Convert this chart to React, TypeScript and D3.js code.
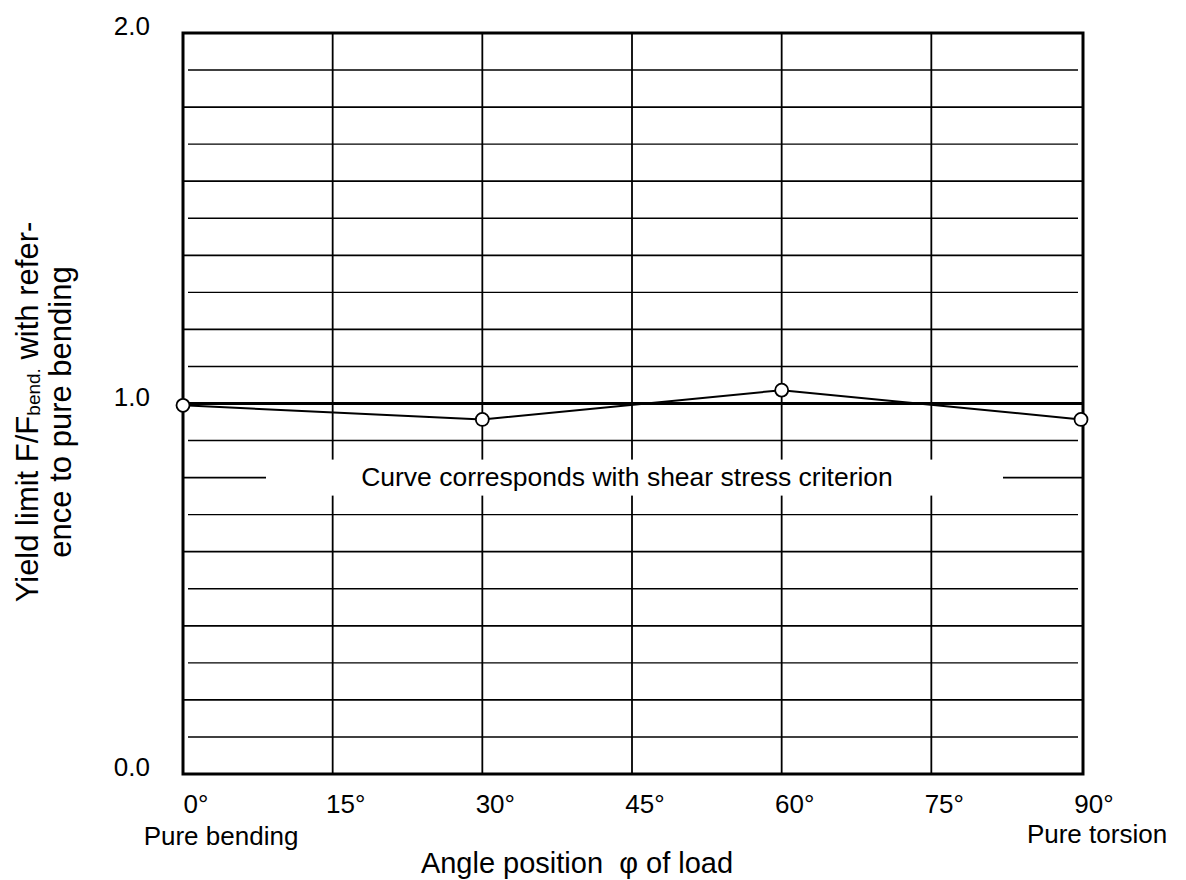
import React from 'react';
import * as d3 from 'd3';

const angles = [0, 30, 60, 90];
const yieldRatio = [0.995, 0.957, 1.036, 0.957];
const xTicks = [0, 15, 30, 45, 60, 75, 90];
const yTickLabels = [0, 1, 2];
const noteText = 'Curve corresponds with shear stress criterion';

const font = '"Liberation Sans", Arial, sans-serif';

export default function App() {
  const width = 1186;
  const height = 880;

  const x = d3.scaleLinear().domain([0, 90]).range([183, 1081]);
  const y = d3.scaleLinear().domain([0, 2]).range([774, 33]);

  const left = 183;
  const right = 1083;
  const gridTicks = y.ticks(20).filter(v => v > 0.01 && v < 1.99 && Math.abs(v - 1) > 0.01);

  const line = d3.line<number>()
    .x((d, i) => x(angles[i]))
    .y(d => y(d));

  return (
    <svg width={width} height={height}
      style={{ position: 'absolute', left: 0, top: 0, background: '#fff' }}
      fontFamily={font}>
      {/* horizontal grid */}
      {gridTicks.map(v => {
        const even = Math.round(v * 10) % 2 === 0;
        return (
          <line key={'h' + v}
            x1={even ? left : 188} x2={even ? right : 1078}
            y1={y(v)} y2={y(v)}
            stroke="#000" strokeWidth={even ? 1.8 : 1.4} />
        );
      })}
      {/* vertical grid */}
      {xTicks.slice(1, -1).map(t => (
        <line key={'v' + t} x1={x(t)} x2={x(t)} y1={y(2)} y2={y(0)}
          stroke="#000" strokeWidth={1.8} />
      ))}
      {/* reference line at 1.0 */}
      <line x1={left} x2={right} y1={y(1)} y2={y(1)} stroke="#000" strokeWidth={3} />

      {/* note box */}
      <rect x={266} y={y(0.8) - 18} width={737} height={36} fill="#fff" />
      <text x={627} y={y(0.8) + 8} textAnchor="middle" fontSize={26.5}>{noteText}</text>

      {/* frame */}
      <rect x={left} y={y(2)} width={right - left} height={y(0) - y(2)}
        fill="none" stroke="#000" strokeWidth={3} />

      {/* data */}
      <path d={line(yieldRatio) || ''} fill="none" stroke="#000" strokeWidth={2} />
      {yieldRatio.map((v, i) => (
        <circle key={'p' + i} cx={x(angles[i])} cy={y(v)} r={6.5}
          fill="#fff" stroke="#000" strokeWidth={1.8} />
      ))}

      {/* y tick labels */}
      {yTickLabels.map(v => (
        <text key={'yl' + v} x={150} y={y(v) + 2} textAnchor="end" fontSize={26}>
          {v.toFixed(1)}
        </text>
      ))}

      {/* x tick labels */}
      {xTicks.map(t => (
        <text key={'xl' + t} x={x(t) + 13} y={813} textAnchor="middle" fontSize={26}>
          {t + '°'}
        </text>
      ))}
      <text x={221} y={845} textAnchor="middle" fontSize={26}>Pure bending</text>
      <text x={1097} y={843} textAnchor="middle" fontSize={26}>Pure torsion</text>

      {/* axis titles */}
      <text x={577} y={873} textAnchor="middle" fontSize={29}>
        Angle position {'\u00a0'}φ of load
      </text>
      <g transform="translate(38,412) rotate(-90)">
        <text x={0} y={0} textAnchor="middle" fontSize={31}>
          Yield limit F/F<tspan fontSize={19} dy={2}>bend.</tspan>
          <tspan dy={-2}> with refer-</tspan>
        </text>
        <text x={0} y={33} textAnchor="middle" fontSize={31}>ence to pure bending</text>
      </g>
    </svg>
  );
}
